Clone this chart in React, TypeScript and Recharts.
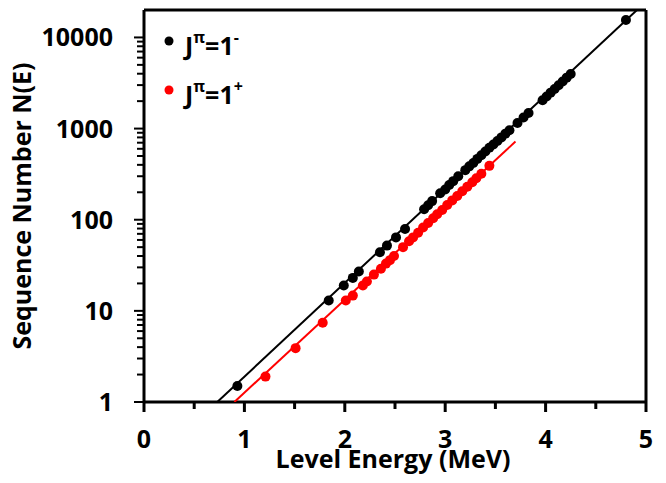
import React from "react";
import { ComposedChart, Scatter, XAxis, YAxis, ReferenceLine, Legend } from "recharts";

// J^pi = 1- levels: energy (MeV) and sequence number
const minusEnergy = [
  0.93, 1.84, 1.99, 2.08, 2.14, 2.35, 2.42, 2.51, 2.6, 2.79, 2.83, 2.87, 2.95, 3.0, 3.04, 3.08, 3.13,
  3.2, 3.24, 3.28, 3.32, 3.36, 3.4, 3.44, 3.48, 3.52, 3.56, 3.6, 3.64, 3.72, 3.78, 3.83, 3.97, 4.01,
  4.05, 4.09, 4.13, 4.17, 4.21, 4.25, 4.8,
];
const minusCount = [
  1.5, 13, 19, 23, 27, 44, 52, 64, 79, 130, 144, 160, 195, 215, 240, 265, 300, 350, 385, 420, 465,
  510, 560, 615, 670, 730, 800, 880, 960, 1150, 1320, 1480, 2050, 2250, 2480, 2720, 2990, 3290, 3620,
  3970, 15500,
];

// J^pi = 1+ levels
const plusEnergy = [
  1.21, 1.51, 1.78, 2.01, 2.08, 2.18, 2.22, 2.29, 2.36, 2.41, 2.45, 2.49, 2.58, 2.64, 2.68, 2.73,
  2.78, 2.83, 2.88, 2.92, 2.97, 3.02, 3.07, 3.12, 3.17, 3.22, 3.27, 3.31, 3.36, 3.44,
];
const plusCount = [
  1.9, 3.9, 7.4, 13, 14.7, 19, 21, 25, 29, 33, 36, 40, 50, 58, 64, 72, 82, 92, 104, 115, 128, 145,
  163, 182, 205, 230, 258, 285, 320, 390,
];

// fitted lines, end points
const minusFitEnergy = [0.73, 4.91];
const minusFitCount = [1, 20000];
const plusFitEnergy = [0.9, 3.7];
const plusFitCount = [1, 720];

const legendOrder = ["-", "+"];
const xTicks = [0, 0.5, 1, 1.5, 2, 2.5, 3, 3.5, 4, 4.5, 5];
const xLabels = [0, 1, 2, 3, 4, 5];
const decades = [1, 10, 100, 1000, 10000];
const yTicks = decades.flatMap((d) => (d === 10000 ? [d] : [1, 2, 3, 4, 5, 6, 7, 8, 9].map((k) => k * d)));

const zip = (e: number[], n: number[]) => e.map((v, i) => ({ e: v, n: n[i] }));

const FONT = "'Open Sans', sans-serif";

const dot = (color: string) => (p: any) => <circle cx={p.cx} cy={p.cy} r={5} fill={color} />;
const noDot = () => <g />;

const XTick = ({ x, y, payload }: any) => {
  const major = xLabels.includes(payload.value);
  return (
    <g>
      <line x1={x} x2={x} y1={y} y2={y + (major ? 10 : 7)} stroke="#000" strokeWidth={3} />
      {major && (
        <text x={x} y={y + 46} textAnchor="middle" fontFamily={FONT} fontWeight={700} fontSize={25} fill="#000">
          {payload.value}
        </text>
      )}
    </g>
  );
};

const YTick = ({ x, y, payload }: any) => {
  const major = decades.includes(payload.value);
  return (
    <g>
      <line x1={x - (major ? 10 : 7)} x2={x} y1={y} y2={y} stroke="#000" strokeWidth={2} />
      {major && (
        <text x={x - 31} y={y + 9} textAnchor="end" fontFamily={FONT} fontWeight={700} fontSize={25} fill="#000">
          {payload.value}
        </text>
      )}
    </g>
  );
};

const YLabel = ({ viewBox }: any) => {
  const cx = viewBox.x + 31;
  const cy = viewBox.y + viewBox.height / 2;
  return (
    <text x={cx} y={cy} transform={`rotate(-90 ${cx} ${cy})`} textAnchor="middle" fontFamily={FONT} fontWeight={700} fontSize={25} fill="#000">
      Sequence Number N(E)
    </text>
  );
};

const XLabel = ({ viewBox }: any) => {
  const cx = viewBox.x + viewBox.width / 2 - 2;
  return (
    <text x={cx} y={468} textAnchor="middle" fontFamily={FONT} fontWeight={700} fontSize={25} fill="#000">
      Level Energy (MeV)
    </text>
  );
};

const LegendBox = ({ payload }: any) => {
  const items = legendOrder.map((k) => (payload || []).find((p: any) => p.value === k)).filter(Boolean);
  return (
    <svg width={130} height={110}>
      {items.map((entry: any, i: number) => (
        <g key={i} transform={`translate(0, ${i * 49})`}>
          <circle cx={19} cy={41} r={4.5} fill={entry.color} />
          <text x={35} y={55} fontFamily={FONT} fontWeight={700} fontSize={25} fill="#000">
            J
            <tspan dy={-12} fontSize={16}>π</tspan>
            <tspan dy={12}>=1</tspan>
            <tspan dy={-12} fontSize={16}>{entry.value}</tspan>
          </text>
        </g>
      ))}
    </svg>
  );
};

export default function App() {
  return (
    <div style={{ position: "fixed", left: 0, top: 0, background: "#fff" }}>
      <ComposedChart width={666} height={483} margin={{ top: 10, right: 20, left: 0, bottom: 0 }}>
        <XAxis
          type="number"
          dataKey="e"
          domain={[0, 5]}
          ticks={xTicks}
          interval={0}
          tickSize={0}
          tickMargin={0}
          tick={<XTick />}
          axisLine={{ stroke: "#000", strokeWidth: 3 }}
          height={81}
          label={<XLabel />}
        />
        <YAxis
          type="number"
          dataKey="n"
          scale="log"
          domain={[1, 20000]}
          allowDataOverflow
          ticks={yTicks}
          interval={0}
          tickSize={0}
          tickMargin={0}
          tick={<YTick />}
          axisLine={{ stroke: "#000", strokeWidth: 3 }}
          width={144}
          label={<YLabel />}
        />
        <ReferenceLine y={20000} stroke="#000" strokeWidth={3} ifOverflow="visible" />
        <ReferenceLine x={5} stroke="#000" strokeWidth={3} ifOverflow="visible" />
        <Legend
          layout="vertical"
          verticalAlign="middle"
          align="center"
          content={<LegendBox />}
          wrapperStyle={{ position: "absolute", top: 0, left: 150, width: 130, height: 110 }}
        />
        <Scatter
          data={zip(minusFitEnergy, minusFitCount)}
          line={{ stroke: "#000", strokeWidth: 2 }}
          shape={noDot}
          legendType="none"
          isAnimationActive={false}
        />
        <Scatter
          data={zip(plusFitEnergy, plusFitCount)}
          line={{ stroke: "#ff0000", strokeWidth: 2 }}
          shape={noDot}
          legendType="none"
          isAnimationActive={false}
        />
        <Scatter name="-" data={zip(minusEnergy, minusCount)} fill="#000" shape={dot("#000")} isAnimationActive={false} />
        <Scatter name="+" data={zip(plusEnergy, plusCount)} fill="#ff0000" shape={dot("#ff0000")} isAnimationActive={false} />
      </ComposedChart>
    </div>
  );
}
